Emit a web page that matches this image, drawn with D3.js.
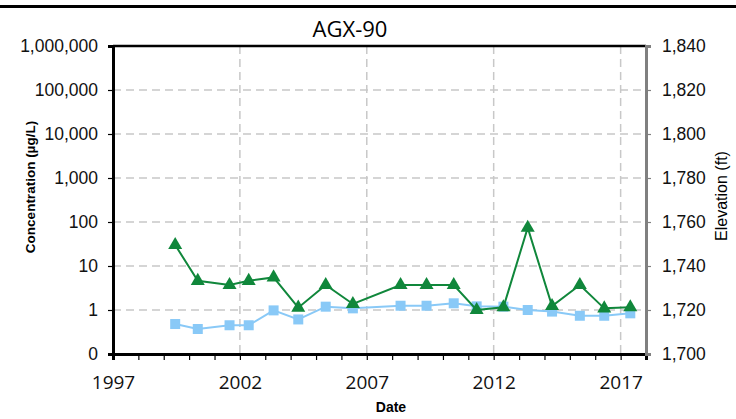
<!DOCTYPE html>
<html>
<head>
<meta charset="utf-8">
<script src="https://cdn.jsdelivr.net/npm/d3@7"></script>
<style>
    body { margin: 0; background: #fff; }
    .grid line { stroke: #c8c8c8; stroke-width: 1.5; stroke-dasharray: 8,5; }
</style>
</head>
<body>
<script>
'use strict';

// sample dates and concentrations (ug/L)
var sampleDates = ['1999-06-15', '2000-05-05', '2001-08-05', '2002-05-08',
    '2003-05-01', '2004-04-20', '2005-05-20', '2006-06-15', '2008-05-01',
    '2009-05-10', '2010-06-05', '2011-05-01', '2012-05-20', '2013-05-05',
    '2014-04-20', '2015-05-25', '2016-05-10', '2017-05-20'];
var greenValues = [30, 4.6, 3.7, 4.6, 5.5, 1.13, 3.7, 1.37, 3.7, 3.7, 3.7,
    1.0, 1.15, 74, 1.23, 3.7, 1.09, 1.15];
var blueValues = [0.48, 0.37, 0.45, 0.45, 0.98, 0.61, 1.19, 1.09, 1.25, 1.25,
    1.42, 1.21, 1.19, 1.0, 0.92, 0.74, 0.74, 0.84];

// axis ticks
var concTicks = [0.1, 1, 10, 100, 1000, 10000, 100000, 1000000];
var elevTicks = [1700, 1720, 1740, 1760, 1780, 1800, 1820, 1840];
var yearLabels = [1997, 2002, 2007, 2012, 2017];

// sizes
var width = 736;
var height = 419;
var margin = {top: 46, right: 90, bottom: 65, left: 113};
var plotW = width - margin.left - margin.right;
var plotH = height - margin.top - margin.bottom;

var parse = d3.timeParse('%Y-%m-%d');

var svg = d3.select('body').append('svg')
    .attr('width', width)
    .attr('height', height);

// black bar on top of the page
svg.append('rect')
    .attr('x', 0).attr('y', 5)
    .attr('width', width).attr('height', 3)
    .attr('fill', '#000');

// title
svg.append('text')
    .attr('x', 350).attr('y', 37)
    .attr('text-anchor', 'middle')
    .style('font-family', '"Open Sans", sans-serif')
    .style('font-size', '22px')
    .text('AGX-90');

var canvas = svg.append('g')
    .attr('transform', 'translate(' + margin.left + ',' + margin.top + ')');

// scales
var x = d3.scaleTime()
    .domain([new Date(1997, 0, 1), new Date(2018, 0, 1)])
    .range([0, plotW]);

var y = d3.scaleLog()
    .domain([0.1, 1000000])
    .range([plotH, 0]);

var y2 = d3.scaleLinear()
    .domain([1700, 1840])
    .range([plotH, 0]);

// gridlines
canvas.append('g').attr('class', 'grid')
    .selectAll('line')
    .data(concTicks.slice(1, -1))
    .enter().append('line')
    .attr('x1', 0).attr('x2', plotW)
    .attr('y1', function(d) { return y(d); })
    .attr('y2', function(d) { return y(d); });

canvas.append('g').attr('class', 'grid')
    .selectAll('line')
    .data(yearLabels.slice(1))
    .enter().append('line')
    .attr('y1', 0).attr('y2', plotH)
    .attr('x1', function(d) { return x(new Date(d, 0, 1)); })
    .attr('x2', function(d) { return x(new Date(d, 0, 1)); });

// top border
canvas.append('line')
    .attr('x1', 0).attr('x2', plotW)
    .attr('y1', 0).attr('y2', 0)
    .attr('stroke', '#000').attr('stroke-width', 2.5);

// x axis, a tick every year, labels every 5 years
var xAxis = canvas.append('g')
    .attr('transform', 'translate(0,' + plotH + ')')
    .call(d3.axisBottom(x)
        .ticks(d3.timeYear.every(1))
        .tickSize(6)
        .tickFormat(function(d) {
            var yr = d.getFullYear();
            return yearLabels.indexOf(yr) >= 0 ? yr : '';
        }));
xAxis.select('.domain').attr('stroke-width', 3);
xAxis.selectAll('.tick line').attr('stroke-width', 1.2);
xAxis.selectAll('text')
    .attr('dy', 0).attr('y', 35)
    .style('font-family', '"Open Sans", sans-serif')
    .style('font-size', '19px')
    .attr('fill', '#111');

// left axis
var yAxis = canvas.append('g')
    .call(d3.axisLeft(y)
        .tickValues(concTicks)
        .tickSize(5)
        .tickPadding(10)
        .tickFormat(d3.format(',.0f')));
yAxis.select('.domain').attr('stroke-width', 3);
yAxis.selectAll('.tick line').attr('stroke-width', 1.2);
yAxis.selectAll('text')
    .style('font-family', '"Liberation Sans", Arial, sans-serif')
    .style('font-size', '17.5px')
    .attr('fill', '#111');

// right axis
var y2Axis = canvas.append('g')
    .attr('transform', 'translate(' + plotW + ',0)')
    .call(d3.axisRight(y2)
        .tickValues(elevTicks)
        .tickSize(5)
        .tickPadding(11)
        .tickFormat(d3.format(',')));
y2Axis.select('.domain').attr('stroke', '#808080').attr('stroke-width', 3);
y2Axis.selectAll('.tick line').attr('stroke', '#808080').attr('stroke-width', 1.2);
y2Axis.selectAll('text')
    .style('font-family', '"Liberation Sans", Arial, sans-serif')
    .style('font-size', '17.5px')
    .attr('fill', '#111');

// build point lists
var greenData = sampleDates.map(function(d, i) {
    return {date: parse(d), value: greenValues[i]};
});
var blueData = sampleDates.map(function(d, i) {
    return {date: parse(d), value: blueValues[i]};
});

var line = d3.line()
    .x(function(d) { return x(d.date); })
    .y(function(d) { return y(d.value); });

// blue series with squares
canvas.append('path')
    .datum(blueData)
    .attr('d', line)
    .attr('fill', 'none')
    .attr('stroke', '#89c9f7')
    .attr('stroke-width', 2);

canvas.selectAll('.sq')
    .data(blueData)
    .enter().append('rect')
    .attr('class', 'sq')
    .attr('x', function(d) { return x(d.date) - 5; })
    .attr('y', function(d) { return y(d.value) - 5; })
    .attr('width', 10).attr('height', 10)
    .attr('fill', '#89c9f7');

// green series with triangles
canvas.append('path')
    .datum(greenData)
    .attr('d', line)
    .attr('fill', 'none')
    .attr('stroke', '#10873b')
    .attr('stroke-width', 2);

var tri = d3.symbol().type(d3.symbolTriangle).size(85);
canvas.selectAll('.tri')
    .data(greenData)
    .enter().append('path')
    .attr('class', 'tri')
    .attr('d', tri)
    .attr('transform', function(d) {
        return 'translate(' + x(d.date) + ',' + y(d.value) + ')';
    })
    .attr('fill', '#10873b');

// axis titles
svg.append('text')
    .attr('transform', 'translate(35,187) rotate(-90)')
    .attr('text-anchor', 'middle')
    .style('font-family', '"Liberation Sans", Arial, sans-serif')
    .style('font-size', '13.5px')
    .style('font-weight', 'bold')
    .text('Concentration (\u00b5g/L)');

svg.append('text')
    .attr('transform', 'translate(727,196) rotate(-90)')
    .attr('text-anchor', 'middle')
    .style('font-family', '"Liberation Sans", Arial, sans-serif')
    .style('font-size', '16px')
    .text('Elevation (ft)');

svg.append('text')
    .attr('x', 391).attr('y', 412)
    .attr('text-anchor', 'middle')
    .style('font-family', '"Liberation Sans", Arial, sans-serif')
    .style('font-size', '14px')
    .style('font-weight', 'bold')
    .text('Date');
</script>
</body>
</html>
